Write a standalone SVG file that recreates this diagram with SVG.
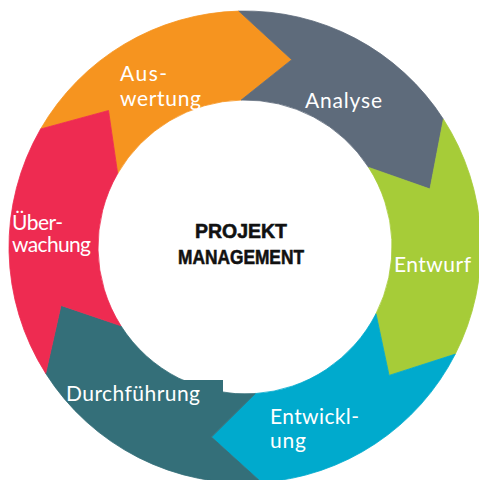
<svg xmlns="http://www.w3.org/2000/svg" width="479" height="480" viewBox="0 0 479 480">
  <style>
    .seg { stroke-width: 0.8; stroke-linejoin: miter; }
    .lbl { font-family: "Lato", "Open Sans", "Liberation Sans", sans-serif; font-size: 21px; fill: #ffffff; }
    .title { font-family: "Liberation Sans", "Arial", sans-serif; font-size: 21px; font-weight: bold; fill: #111111; stroke: #111111; stroke-width: 0.6; }
  </style>
  <rect width="479" height="480" fill="#ffffff"/>

  <!-- ring of six chevron-shaped phases, clockwise; centre (245,247), radii 236 / 147 -->
  <g id="auswertung">
    <path class="seg" fill="#F6941F" stroke="#F6941F" d="M 40.6,129 A 236 236 0 0 1 238.8,11.1 L 291.7,59.7 L 241.15,100.05 A 147 147 0 0 0 117.7,173.5 L 108.5,110.5 Z"/>
    <text class="lbl" x="120" y="81" textLength="47">Aus-</text>
    <text class="lbl" x="120" y="106" textLength="81">wertung</text>
  </g>

  <g id="analyse">
    <path class="seg" fill="#5E6B7B" stroke="#5E6B7B" d="M 238.8,11.1 A 236 236 0 0 1 443.4,119.2 L 430,189 L 368.6,167.4 A 147 147 0 0 0 241.15,100.05 L 291.7,59.7 Z"/>
    <text class="lbl" x="305" y="108" textLength="77">Analyse</text>
  </g>

  <g id="entwurf">
    <path class="seg" fill="#A6CC38" stroke="#A6CC38" d="M 443.4,119.2 A 236 236 0 0 1 455.3,354.1 L 389.1,375.4 L 376,313.7 A 147 147 0 0 0 368.6,167.4 L 430,189 Z"/>
    <text class="lbl" x="394" y="272" textLength="77">Entwurf</text>
  </g>

  <g id="entwicklung">
    <path class="seg" fill="#00AACD" stroke="#00AACD" d="M 455.3,354.1 A 236 236 0 0 1 261.5,482.4 L 211.5,437.1 L 255.3,393.6 A 147 147 0 0 0 376,313.7 L 389.1,375.4 Z"/>
    <text class="lbl" x="270" y="424" textLength="89">Entwickl-</text>
    <text class="lbl" x="270" y="448" textLength="36">ung</text>
  </g>

  <g id="durchfuehrung">
    <path class="seg" fill="#346F79" stroke="#346F79" d="M 261.5,482.4 A 236 236 0 0 1 45.7,373.4 L 61,305.4 L 120.9,325.8 A 147 147 0 0 0 255.3,393.6 L 211.5,437.1 Z"/>
    <rect x="150" y="380" width="73" height="26" fill="#346F79"/>
    <text class="lbl" x="66" y="401" textLength="134">Durchführung</text>
  </g>

  <g id="ueberwachung">
    <path class="seg" fill="#EE2B51" stroke="#EE2B51" d="M 45.7,373.4 A 236 236 0 0 1 40.6,129 L 108.5,110.5 L 117.7,173.5 A 147 147 0 0 0 120.9,325.8 L 61,305.4 Z"/>
    <text class="lbl" x="12" y="230" textLength="51">Über-</text>
    <text class="lbl" x="12" y="252" textLength="79">wachung</text>
  </g>

  <g id="projektmanagement">
    <text class="title" x="195" y="238" textLength="92" lengthAdjust="spacingAndGlyphs">PROJEKT</text>
    <text class="title" x="178" y="264" textLength="126" lengthAdjust="spacingAndGlyphs">MANAGEMENT</text>
  </g>
</svg>
